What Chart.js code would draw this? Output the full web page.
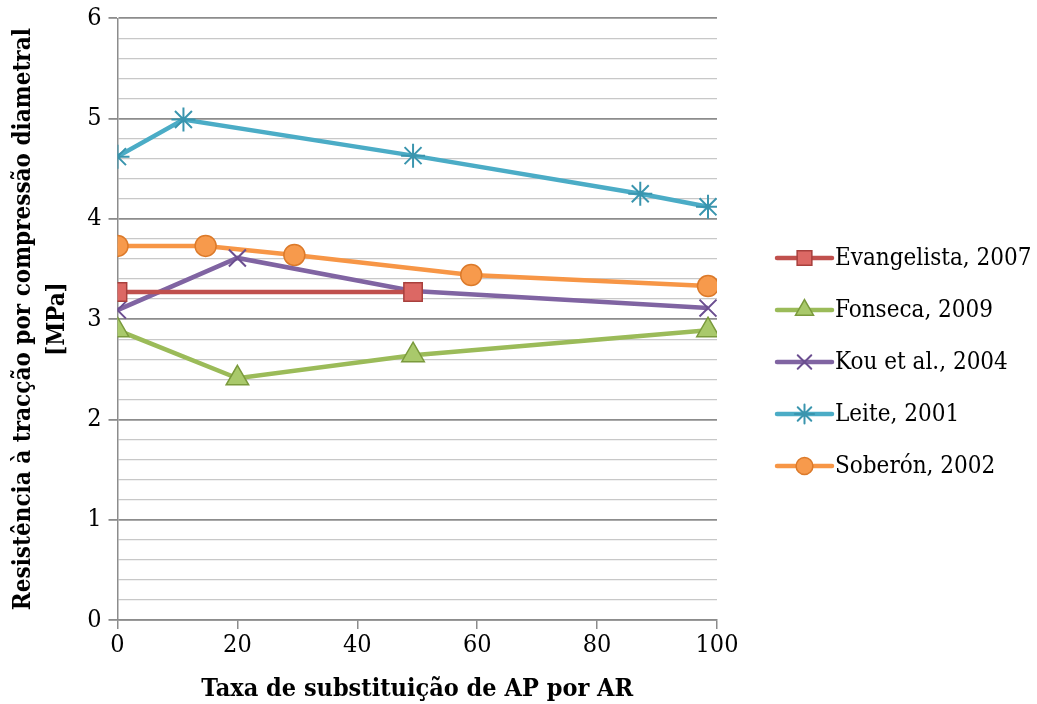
<!DOCTYPE html>
<html>
<head>
<meta charset="utf-8">
<script src="https://cdn.jsdelivr.net/npm/chart.js@4.4.1/dist/chart.umd.min.js"></script>
<style>
  html, body { margin: 0; padding: 0; background: #fff; }
  #wrap { width: 1037px; height: 704px; }
</style>
</head>
<body>
<div id="wrap"><canvas id="chart" width="1037" height="704"></canvas></div>
<script>
// series data (x = % substitution, y = MPa)
const seriesNames = ['Evangelista, 2007', 'Fonseca, 2009', 'Kou et al., 2004', 'Leite, 2001', 'Soberón, 2002'];
const evangelistaX = [0, 49.3];
const evangelistaY = [3.27, 3.27];
const fonsecaX = [0, 20, 49.3, 98.5];
const fonsecaY = [2.89, 2.41, 2.64, 2.89];
const kouX = [0, 20, 49.3, 98.5];
const kouY = [3.09, 3.61, 3.28, 3.11];
const leiteX = [0, 11, 49.3, 87.2, 98.5];
const leiteY = [4.62, 4.99, 4.63, 4.25, 4.12];
const soberonX = [0, 14.7, 29.5, 59, 98.5];
const soberonY = [3.73, 3.73, 3.64, 3.44, 3.33];

const xTicks = [0, 20, 40, 60, 80, 100];
const yTicks = [0, 1, 2, 3, 4, 5, 6];

const SERIF_C = "'DejaVu Serif Condensed', 'DejaVu Serif', serif";

function pts(xs, ys) {
    return xs.map((x, i) => ({ x: x, y: ys[i] }));
}

function isMajor(v) {
    return Math.abs(v - Math.round(v)) < 1e-6;
}

const styles = [
    { line: '#C0504D', fill: '#DC6864', border: '#A8403D', point: 'rect', radius: 13, bw: 1.5 },
    { line: '#9BBB59', fill: '#A9C96B', border: '#7A9A3C', point: 'triangle', radius: 13, bw: 1.5 },
    { line: '#8064A2', fill: '#8064A2', border: '#6B4E90', point: 'crossRot', radius: 12, bw: 2 },
    { line: '#4BACC6', fill: '#4BACC6', border: '#3A95AE', point: 'star', radius: 12, bw: 2 },
    { line: '#F79646', fill: '#F79A4C', border: '#DC7A2A', point: 'circle', radius: 10.5, bw: 1.5 }
];

const allX = [evangelistaX, fonsecaX, kouX, leiteX, soberonX];
const allY = [evangelistaY, fonsecaY, kouY, leiteY, soberonY];

const datasets = seriesNames.map((name, i) => ({
    label: name,
    data: pts(allX[i], allY[i]),
    showLine: true,
    borderColor: styles[i].line,
    borderWidth: 4.5,
    pointStyle: styles[i].point,
    pointRadius: styles[i].radius,
    pointBackgroundColor: styles[i].fill,
    pointBorderColor: styles[i].border,
    pointBorderWidth: styles[i].bw,
    tension: 0
}));

// legend drawn as line + marker, like the office-style legend
const sideLegend = {
    id: 'sideLegend',
    afterDraw(chart) {
        const ctx = chart.ctx;
        const x0 = 777, x1 = 832, y0 = 258, gap = 52;
        ctx.save();
        chart.data.datasets.forEach((ds, i) => {
            const y = y0 + i * gap;
            ctx.strokeStyle = ds.borderColor;
            ctx.lineWidth = 4.5;
            ctx.lineCap = 'round';
            ctx.beginPath();
            ctx.moveTo(x0, y);
            ctx.lineTo(x1, y);
            ctx.stroke();
            ctx.fillStyle = ds.pointBackgroundColor;
            ctx.strokeStyle = ds.pointBorderColor;
            ctx.lineWidth = ds.pointBorderWidth;
            Chart.helpers.drawPoint(ctx, {
                pointStyle: ds.pointStyle,
                radius: ds.pointRadius * 0.8,
                borderWidth: ds.pointBorderWidth,
                rotation: 0
            }, (x0 + x1) / 2, y);
            ctx.fillStyle = '#000';
            ctx.font = '24px ' + SERIF_C;
            ctx.textBaseline = 'middle';
            ctx.textAlign = 'left';
            ctx.fillText(ds.label, x1 + 3, y + 1);
        });
        ctx.restore();
    }
};

new Chart(document.getElementById('chart'), {
    type: 'scatter',
    data: { datasets: datasets },
    plugins: [sideLegend],
    options: {
        responsive: false,
        animation: false,
        layout: { padding: { top: 0, right: 320, bottom: 0, left: 7 } },
        plugins: {
            legend: { display: false },
            tooltip: { enabled: false }
        },
        scales: {
            x: {
                type: 'linear',
                min: 0,
                max: 100,
                afterBuildTicks: (axis) => { axis.ticks = xTicks.map(v => ({ value: v })); },
                border: { display: true, color: '#8c8c8c', width: 1.5 },
                grid: { drawOnChartArea: false, drawTicks: true, tickLength: 9, color: '#8c8c8c', lineWidth: 1.5 },
                ticks: { color: '#000', font: { family: SERIF_C, size: 25 }, padding: 1, maxRotation: 0, autoSkip: false },
                title: {
                    display: true,
                    text: 'Taxa de substituição de AP por AR',
                    color: '#000',
                    font: { family: SERIF_C, size: 25, weight: 'bold' },
                    padding: { top: 13, bottom: 0 }
                }
            },
            y: {
                type: 'linear',
                min: 0,
                max: 6,
                ticks: {
                    stepSize: 0.2,
                    autoSkip: false,
                    color: '#000',
                    font: { family: SERIF_C, size: 25, lineHeight: 0.9 },
                    padding: 7,
                    callback: (v) => {
                        const r = Math.round(v);
                        return isMajor(v) && yTicks.includes(r) ? String(r) : '';
                    }
                },
                border: { display: true, color: '#8c8c8c', width: 1.5 },
                grid: {
                    tickLength: 9,
                    color: (c) => isMajor(c.tick.value) ? '#8c8c8c' : '#c8c8c8',
                    tickColor: (c) => isMajor(c.tick.value) ? '#8c8c8c' : 'rgba(0,0,0,0)',
                    lineWidth: (c) => isMajor(c.tick.value) ? 1.8 : 1.3
                },
                title: {
                    display: true,
                    text: ['Resistência à tracção por compressão diametral', '[MPa]'],
                    color: '#000',
                    font: { family: SERIF_C, size: 24, weight: 'bold', lineHeight: 1.4 },
                    padding: { top: 0, bottom: 6 }
                }
            }
        }
    }
});
</script>
</body>
</html>
